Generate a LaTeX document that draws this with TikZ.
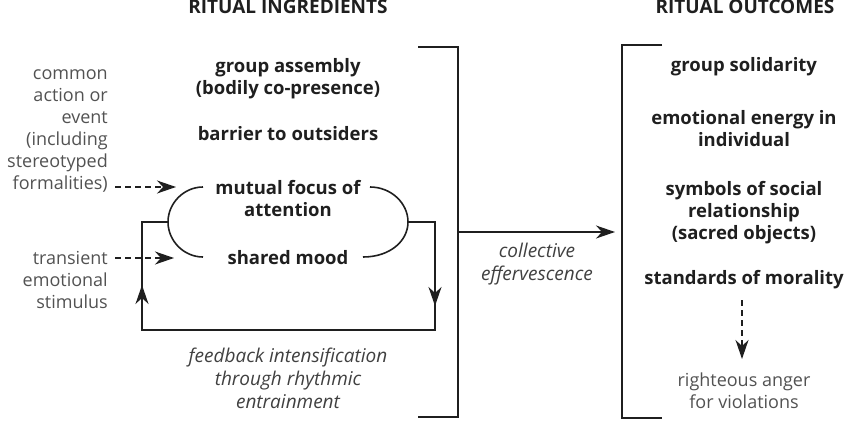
\documentclass[tikz,border=0pt]{standalone}
\usepackage{fontspec}
\setmainfont{Open Sans}
\usetikzlibrary{arrows.meta}
\begin{document}
\begin{tikzpicture}[x=1pt,y=-1pt,
 ink/.style={draw=black!88, line width=1.6pt},
 tip/.style={-{Stealth[length=19pt,width=13pt,inset=6pt]}},
 dashline/.style={dash pattern=on 6pt off 4pt},
 boldtxt/.style={font=\fontsize{18.5}{22}\selectfont\bfseries, text=black!88, align=center, inner sep=0pt},
 sidetxt/.style={font=\fontsize{18}{22}\selectfont, text=black!68, align=right, inner sep=0pt},
 outtxt/.style={font=\fontsize{18}{22}\selectfont, text=black!68, align=center, inner sep=0pt},
 italtxt/.style={font=\fontsize{19}{23}\selectfont\itshape, text=black!75, align=center, inner sep=0pt},
 headtxt/.style={font=\fontsize{19}{20}\selectfont\bfseries, text=black!88, inner sep=0pt},
]
\useasboundingbox (0,0) rectangle (848,420);

% titles
\node[headtxt] (hin) at (288,7) {RITUAL INGREDIENTS};
\node[headtxt] (hout) at (745,7) {RITUAL OUTCOMES};

% ingredients
\node[boldtxt] (assembly) at (288,79) {group assembly\\(bodily co-presence)};
\node[boldtxt] (barrier) at (288,134) {barrier to outsiders};
\node[boldtxt] (focus) at (288,199) {mutual focus of\\attention};
\node[boldtxt] (mood) at (288,258) {shared mood};

% side inputs
\node[sidetxt, anchor=east] (common) at (108,131) {common\\action or\\event\\(including\\stereotyped\\formalities)};
\node[sidetxt, anchor=east] (transient) at (108,280) {transient\\emotional\\stimulus};

\coordinate (c1s) at (115,187);
\coordinate (c1e) at (176,187);
\coordinate (c2s) at (115,258);
\coordinate (c2e) at (174,258);
\draw[ink, dashline, tip] (c1s) -- (c1e);
\draw[ink, dashline, tip] (c2s) -- (c2e);

% arcs round focus and mood
\coordinate (la) at (168,222);
\coordinate (ra) at (408,222);
\draw[ink] (203,187) .. controls (184,187) and (168,203) .. (la) .. controls (168,241) and (184,257) .. (203,257);
\draw[ink] (370,187) .. controls (391,187) and (408,203) .. (ra) .. controls (408,241) and (390,257) .. (363,257);

% feedback loop
\coordinate (rtop) at (435,222);
\coordinate (rbot) at (435,330);
\coordinate (lbot) at (142,330);
\coordinate (ltop) at (142,222);
\coordinate (rmid) at (435,306);
\coordinate (lmid) at (142,285);
\draw[ink] (ra) -- (rtop) -- (rbot) -- (lbot) -- (ltop) -- (la);
\draw[ink, tip] (rtop) -- (rmid);
\draw[ink, tip] (lbot) -- (lmid);

\node[italtxt] (feedback) at (288,378) {feedback intensification\\through rhythmic\\entrainment};

% brackets
\draw[ink] (418,47) -- (458,47) -- (458,417) -- (418,417);
\draw[ink] (662,45) -- (622,45) -- (622,418) -- (662,418);
\coordinate (bl) at (458,232);
\coordinate (br) at (615,232);
\draw[ink, tip] (bl) -- (br);
\node[italtxt] (eff) at (537,264) {collective\\effervescence};

% outcomes
\node[boldtxt] (solid) at (744,67) {group solidarity};
\node[boldtxt] (energy) at (744,129) {emotional energy in\\individual};
\node[boldtxt] (symbols) at (744,213) {symbols of social\\relationship\\(sacred objects)};
\node[boldtxt] (moral) at (744,280) {standards of morality};
\node[outtxt] (anger) at (744,391) {righteous anger\\for violations};
\coordinate (ms) at (742,300);
\coordinate (me) at (742,359);
\draw[ink, dashline, tip] (ms) -- (me);
\end{tikzpicture}
\end{document}
